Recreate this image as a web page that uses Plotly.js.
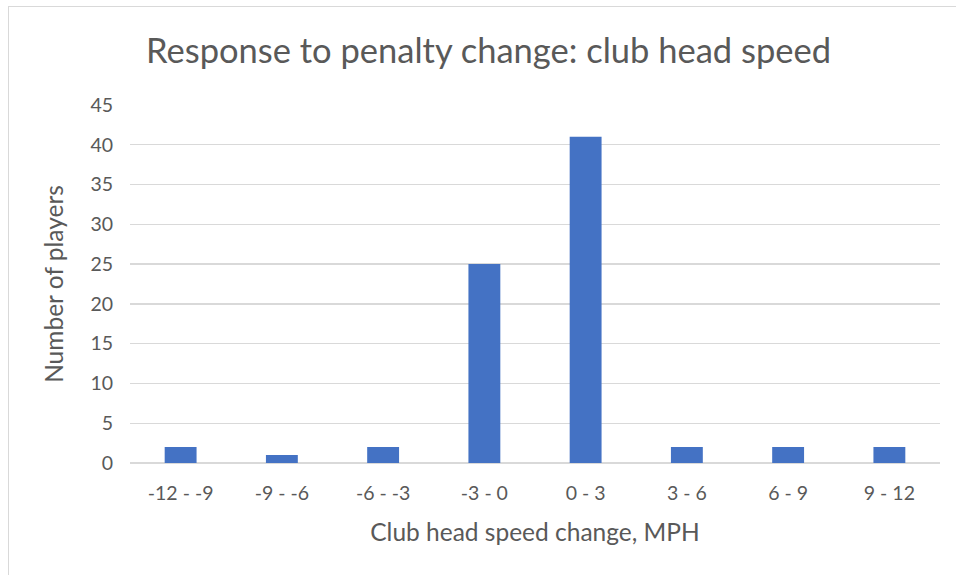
<!DOCTYPE html>
<html>
<head>
<meta charset="utf-8">
<script src="https://cdn.plot.ly/plotly-3.0.1.min.js"></script>
<style>
html,body{margin:0;padding:0;background:#fff;overflow:hidden;}
#frame{position:absolute;left:8px;top:6px;width:970px;height:600px;border:1.5px solid #d9d9d9;box-sizing:border-box;}
#chart{position:absolute;left:0;top:0;width:956px;height:575px;}
</style>
</head>
<body>
<div id="frame"></div>
<div id="chart"></div>
<script>
const categories = ["-12 - -9", "-9 - -6", "-6 - -3", "-3 - 0", "0 - 3", "3 - 6", "6 - 9", "9 - 12"];
const players = [2, 1, 2, 25, 41, 2, 2, 2];
const yTicks = [0, 5, 10, 15, 20, 25, 30, 35, 40, 45];

const fontFam = "Lato, 'Open Sans', sans-serif";
const trace = {
  type: "bar",
  x: categories,
  y: players,
  marker: {color: "#4472C4"},
  hoverinfo: "x+y"
};
const layout = {
  width: 956, height: 575,
  paper_bgcolor: "rgba(0,0,0,0)",
  plot_bgcolor: "rgba(0,0,0,0)",
  margin: {l: 130, r: 16, t: 105, b: 112},
  bargap: 0.685,
  showlegend: false,
  font: {family: fontFam, color: "#595959"},
  title: {text: "Response to penalty change: club head speed", font: {family: fontFam, size: 34.5, color: "#595959"}, x: 0.511, xanchor: "center", y: 0.912, yanchor: "middle"},
  xaxis: {
    type: "category",
    tickfont: {size: 19.5, color: "#595959"},
    showgrid: false,
    showline: false,
    ticks: "",
    ticklabelstandoff: 16,
    title: {text: "Club head speed change, MPH", font: {size: 24.5, color: "#595959"}, standoff: 21}
  },
  yaxis: {
    range: [0, 45],
    tickvals: yTicks,
    tickfont: {size: 19.5, color: "#595959"},
    gridcolor: "#d9d9d9",
    gridwidth: 1.3,
    zeroline: true,
    zerolinecolor: "#d9d9d9",
    zerolinewidth: 1.8,
    showline: false,
    ticks: "",
    ticklabelstandoff: 16,
    title: {text: "Number of players", font: {size: 24.5, color: "#595959"}, standoff: 19}
  }
};
Plotly.newPlot("chart", [trace], layout, {displayModeBar: false, staticPlot: true});
</script>
</body>
</html>
